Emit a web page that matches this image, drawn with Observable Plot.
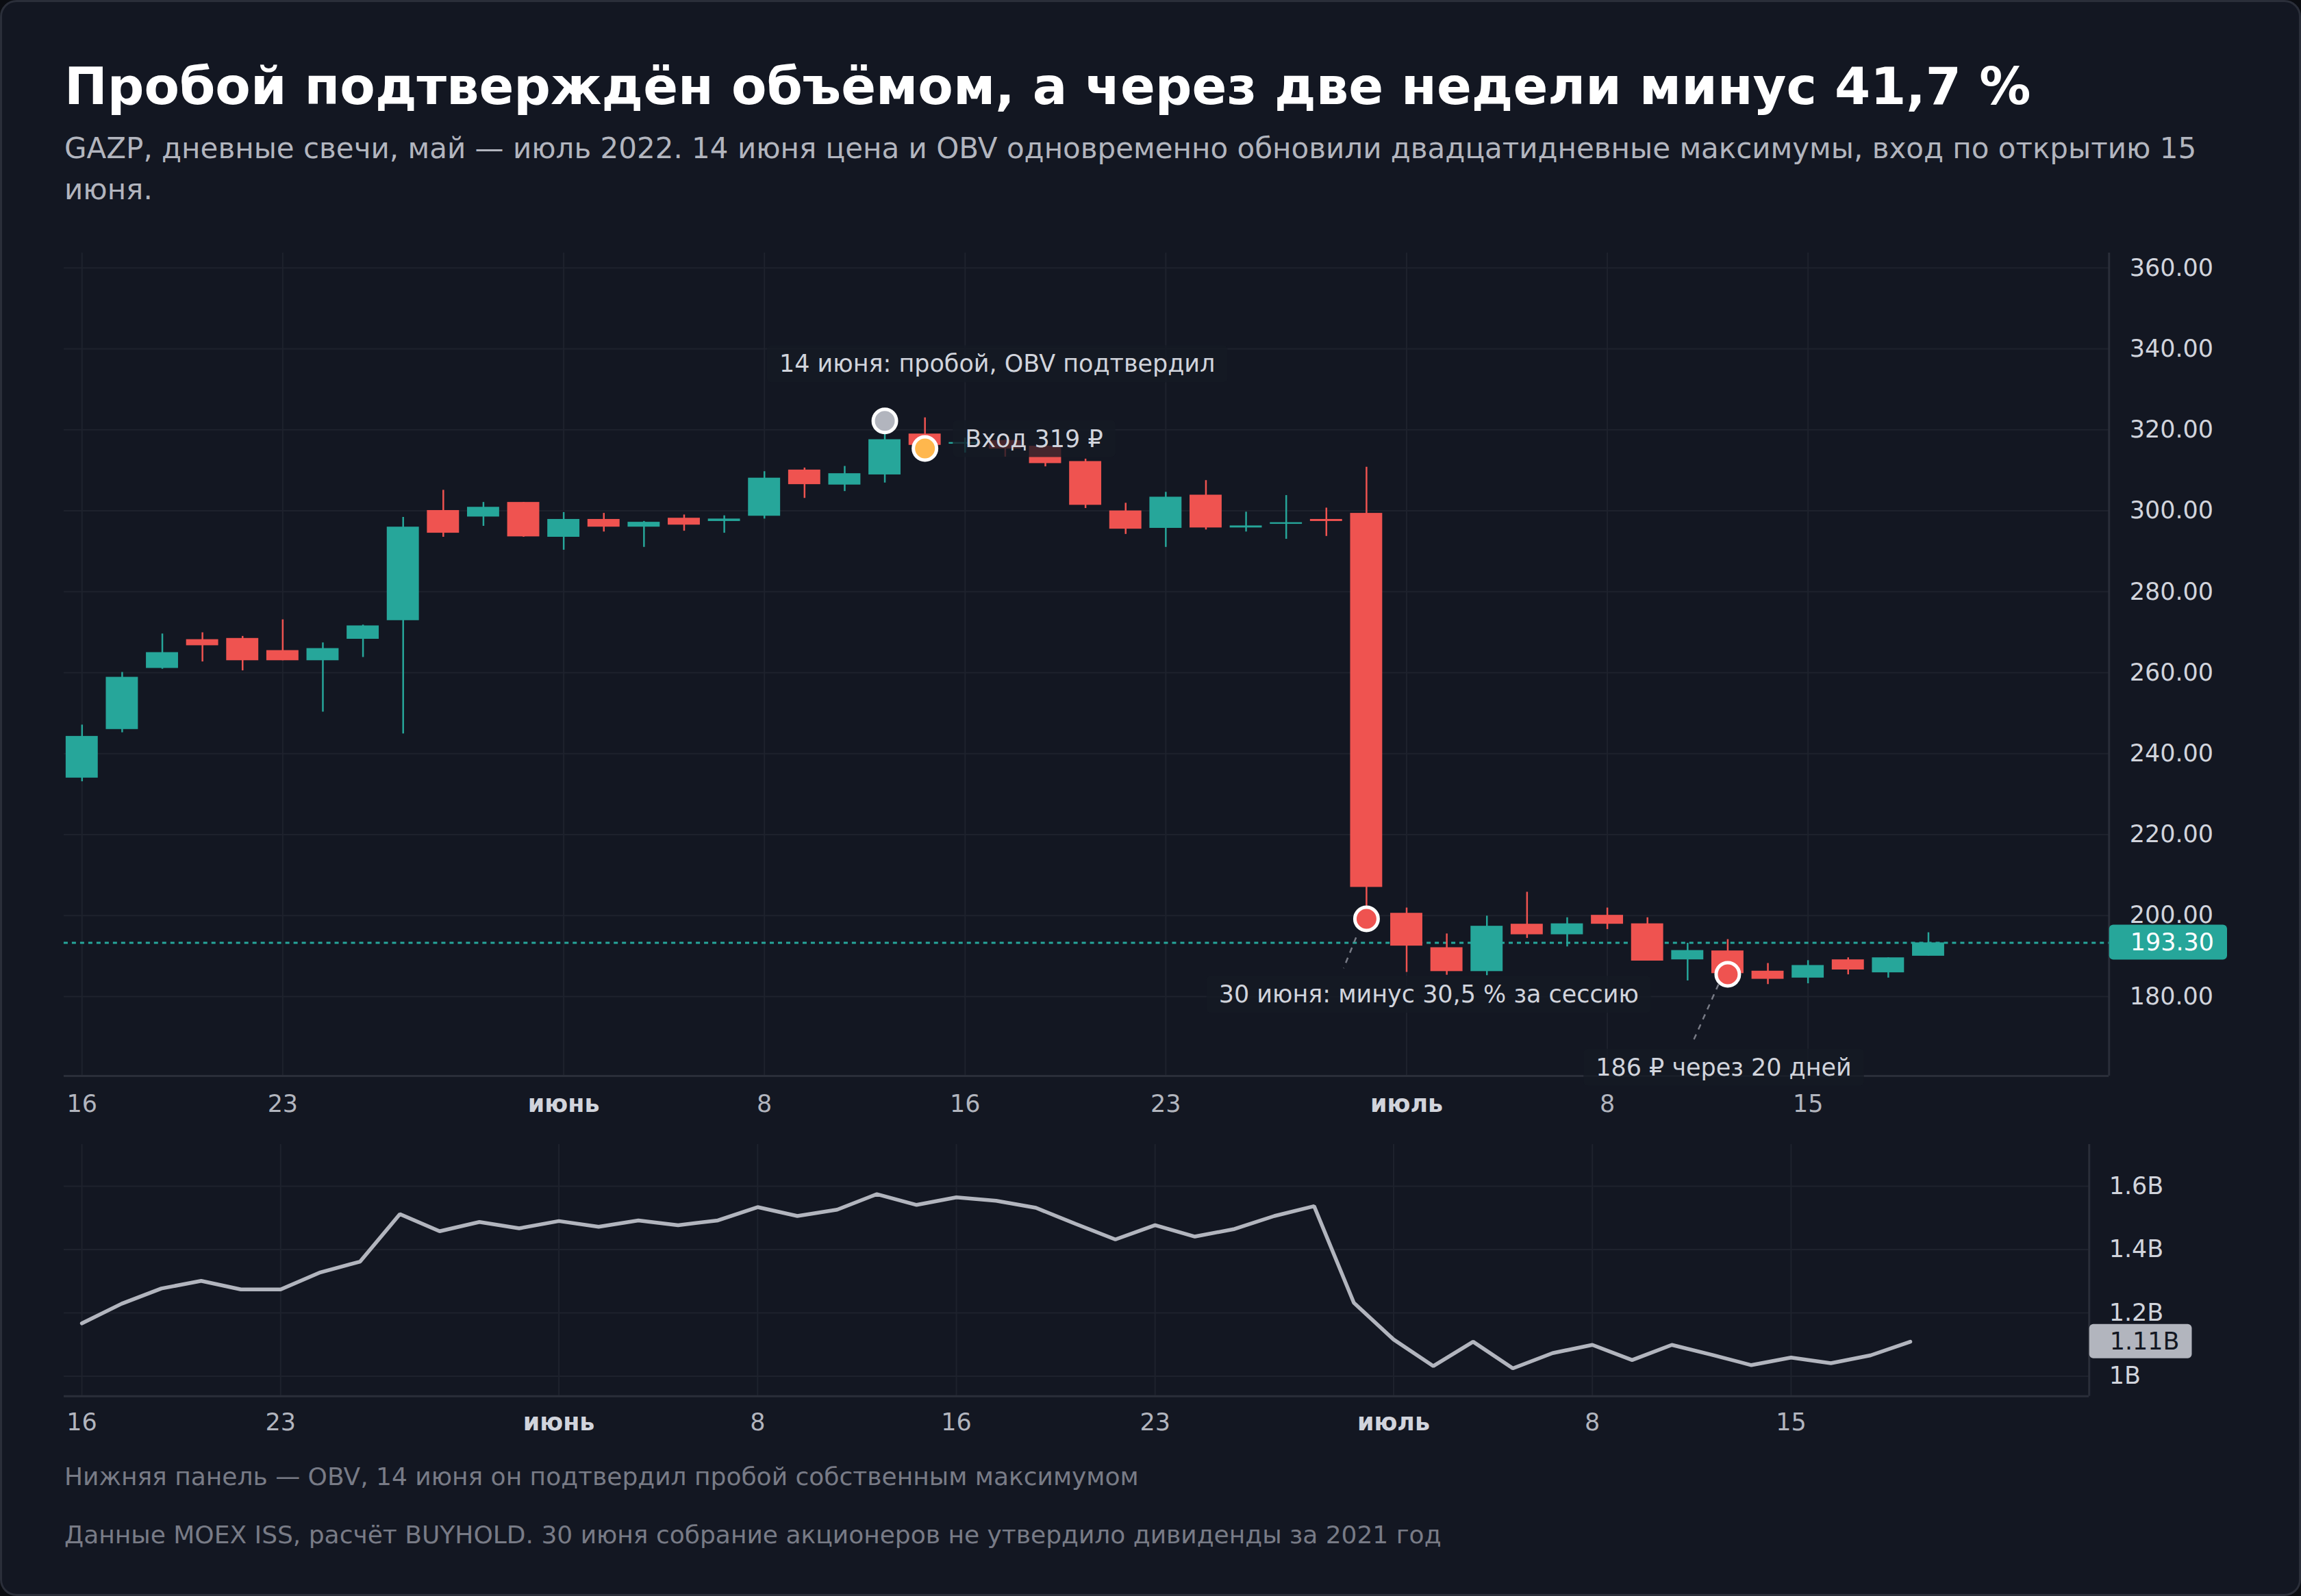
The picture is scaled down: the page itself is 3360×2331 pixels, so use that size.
<!DOCTYPE html>
<html><head><meta charset="utf-8">
<script src="https://cdn.jsdelivr.net/npm/d3@7"></script>
<script src="https://cdn.jsdelivr.net/npm/@observablehq/plot@0.6"></script>
<style>
html,body{margin:0;padding:0;background:#0b0d12;}
#card{position:relative;width:3360px;height:2331px;box-sizing:border-box;background:#131722;border:3px solid #2a2e39;border-radius:24px;overflow:hidden;font-family:"DejaVu Sans",sans-serif;}
#title{position:absolute;left:91px;top:80px;font-size:75px;line-height:86px;font-weight:bold;color:#ffffff;white-space:nowrap;}
#subtitle{position:absolute;left:91px;top:184px;width:3160px;font-size:42px;line-height:60px;color:#b2b5be;}
#main{position:absolute;left:-3px;top:327px;}
#obv{position:absolute;left:-3px;top:1650px;}
.foot{position:absolute;left:91px;font-size:36px;line-height:42px;color:#787b86;white-space:nowrap;}
#foot1{top:2133px;}
#foot2{top:2218px;}
</style></head>
<body>
<div id="card">
  <div id="title">Пробой подтверждён объёмом, а через две недели минус 41,7 %</div>
  <div id="subtitle">GAZP, дневные свечи, май — июль 2022. 14 июня цена и OBV одновременно обновили двадцатидневные максимумы, вход по открытию 15 июня.</div>
  <div id="main"></div>
  <div id="obv"></div>
  <div class="foot" id="foot1">Нижняя панель — OBV, 14 июня он подтвердил пробой собственным максимумом</div>
  <div class="foot" id="foot2">Данные MOEX ISS, расчёт BUYHOLD. 30 июня собрание акционеров не утвердило дивиденды за 2021 год</div>
</div>
<script>
// ---- data ----
const dates = ["2022-05-16","2022-05-17","2022-05-18","2022-05-19","2022-05-20",
  "2022-05-23","2022-05-24","2022-05-25","2022-05-26","2022-05-27",
  "2022-05-30","2022-05-31","2022-06-01","2022-06-02","2022-06-03",
  "2022-06-06","2022-06-07","2022-06-08","2022-06-09","2022-06-10",
  "2022-06-14","2022-06-15","2022-06-16","2022-06-17",
  "2022-06-20","2022-06-21","2022-06-22","2022-06-23","2022-06-24",
  "2022-06-27","2022-06-28","2022-06-29","2022-06-30","2022-07-01",
  "2022-07-04","2022-07-05","2022-07-06","2022-07-07","2022-07-08",
  "2022-07-11","2022-07-12","2022-07-13","2022-07-14","2022-07-15",
  "2022-07-18","2022-07-19","2022-07-20"];
const opens  = [234.0,246.0,261.1,268.2,268.5,265.5,263.0,268.3,272.9,300.1,298.5,302.1,293.5,297.9,296.0,298.2,297.4,298.7,310.1,306.4,308.9,319.0,316.5,317.4,316.0,312.2,300.0,295.7,303.9,295.8,296.7,297.9,299.4,200.6,192.1,186.2,197.9,195.3,200.1,198.0,189.1,191.3,186.3,184.6,189.1,185.9,190.0];
const highs  = [247.1,260.1,269.6,269.9,269.0,273.1,267.4,271.8,298.4,305.1,302.1,302.1,299.6,299.4,297.4,299.0,298.8,309.7,310.6,311.0,322.2,323.0,318.0,317.6,316.2,312.8,301.9,304.6,307.5,299.7,303.8,300.7,310.8,201.9,195.5,199.9,205.8,199.5,201.9,199.5,193.2,194.1,188.2,188.9,189.6,189.6,195.8];
const lows   = [233.1,245.2,260.9,262.7,260.5,263.0,250.3,263.8,244.9,293.5,296.2,293.5,290.3,294.8,291.0,295.0,294.5,298.0,303.1,304.8,306.9,314.8,314.3,313.3,310.9,300.6,294.2,291.0,295.3,294.8,293.0,293.7,199.2,186.0,185.3,185.2,194.4,192.3,196.6,188.8,183.9,184.8,183.0,183.2,185.4,184.6,190.0];
const closes = [244.3,258.9,265.0,266.7,263.0,263.0,266.0,271.6,296.0,294.5,300.9,293.6,297.9,296.0,297.2,296.5,298.0,308.1,306.5,309.2,317.6,316.2,316.9,315.3,311.7,301.4,295.5,303.4,295.8,296.3,297.1,297.4,207.0,192.5,186.2,197.4,195.3,198.0,197.9,188.8,191.4,185.7,184.3,187.7,186.6,189.6,193.3];
// OBV, billions
const obv = [1.167,1.229,1.277,1.301,1.274,1.274,1.328,1.362,1.512,1.458,1.487,1.467,1.490,1.472,1.492,1.477,1.492,1.534,1.506,1.526,1.575,1.541,1.565,1.554,1.532,1.481,1.432,1.477,1.441,1.465,1.506,1.537,1.232,1.116,1.032,1.109,1.025,1.073,1.099,1.051,1.099,1.068,1.035,1.059,1.041,1.066,1.109];

// x tick labels (trading-day index -> label)
const dayTickIdx = [0,5,17,22,27,38,43];
const dayTickLabels = ["16","23","8","16","23","8","15"];
const monthTickIdx = [12,33];
const monthTickLabels = ["июнь","июль"];
const priceTicks = [180,200,220,240,260,280,300,320,340,360];
const obvTicks = [1.0,1.2,1.4,1.6];

// annotations (trading-day index, price)
const markerIdx = [20,21,32,41];
const markerVal = [322.2,315.4,199.2,185.5];
const markerFill = ["#b2b5be","#ffb74d","#ef5350","#ef5350"];
const noteText = ["14 июня: пробой, OBV подтвердил","30 июня: минус 30,5 % за сессию","186 ₽ через 20 дней"];
const noteIdx = [22.8,33.55,40.9];
const noteVal = [336.2,180.4,162.4];
const entryText = ["Вход 319 ₽"];
const entryIdx = [22.0];
const entryVal = [317.7];
const leaderFrom = [[31.74,194.6],[40.77,183.0]];
const leaderTo = [[31.43,187.0],[40.12,168.6]];

// ---- styles ----
const teal = "#26a69a", red = "#ef5350";
const gridColor = "#1e222d", axisColor = "#2a2e39";
const xDomain = [-0.45, 50.5];
const yDomain = [160.4, 363.7];
const obvDomain = [0.937, 1.732];

const candles = dates.map((d,i)=>({i, date:d, open:opens[i], high:highs[i], low:lows[i], close:closes[i]}));
const markers = markerIdx.map((i,k)=>({i, v:markerVal[k], fill:markerFill[k]}));
const notes = noteText.map((t,k)=>({i:noteIdx[k], v:noteVal[k], text:t}));
const entries = entryText.map((t,k)=>({i:entryIdx[k], v:entryVal[k], text:t}));
const leaders = leaderFrom.map((f,k)=>({x1:f[0], y1:f[1], x2:leaderTo[k][0], y2:leaderTo[k][1]}));
const obvData = obv.map((v,i)=>({i, v}));
const lastClose = closes[closes.length-1];
const lastObv = obv[obv.length-1];
const dayLab = new Map(dayTickIdx.map((d,k)=>[d, dayTickLabels[k]]));
const monLab = new Map(monthTickIdx.map((d,k)=>[d, monthTickLabels[k]]));
const up = d => d.close >= d.open;
const fmtB = d => String(+d.toFixed(2)) + "B";
const fmtP = d3.format(".2f");

const baseStyle = {background:"transparent", color:"#d1d4dc", fontFamily:"DejaVu Sans", fontSize:"35px", overflow:"visible"};

const main = Plot.plot({
  width: 3360, height: 1323, marginTop: 39, marginBottom: 81, marginLeft: 93, marginRight: 278,
  style: baseStyle,
  color: {type: "identity"},
  x: {domain: xDomain, axis: null},
  y: {domain: yDomain, axis: null},
  marks: [
    Plot.gridY(priceTicks, {stroke: gridColor, strokeOpacity: 1, strokeWidth: 2}),
    Plot.gridX([...dayTickIdx, ...monthTickIdx], {stroke: gridColor, strokeOpacity: 1, strokeWidth: 2}),
    Plot.ruleX([xDomain[1]], {stroke: axisColor, strokeWidth: 3}),
    Plot.ruleY([yDomain[0]], {stroke: axisColor, strokeWidth: 3}),
    Plot.axisX(dayTickIdx, {anchor:"bottom", label: null, tickSize: 0, tickPadding: 28, tickFormat: d => dayLab.get(d), color: "#b2b5be"}),
    Plot.axisX(monthTickIdx, {anchor:"bottom", label: null, tickSize: 0, tickPadding: 28, tickFormat: d => monLab.get(d), color: "#d1d4dc", fontWeight: "bold"}),
    Plot.axisY(priceTicks, {anchor:"right", label: null, tickSize: 0, tickPadding: 30, tickFormat: fmtP, color: "#d1d4dc"}),
    Plot.ruleY([lastClose], {stroke: teal, strokeWidth: 3, strokeDasharray: "6,6"}),
    Plot.ruleX(candles, {x: "i", y1: "low", y2: "high", stroke: d => up(d) ? teal : red, strokeWidth: 2.5}),
    Plot.rect(candles, {x1: d => d.i - 0.4, x2: d => d.i + 0.4, y1: "open", y2: "close", fill: d => up(d) ? teal : red}),
    Plot.link(leaders, {x1:"x1", y1:"y1", x2:"x2", y2:"y2", stroke: "#787b86", strokeWidth: 2.5, strokeDasharray: "8,8"}),
    Plot.dot(markers, {x: "i", y: "v", r: 17, fill: "fill", stroke: "white", strokeWidth: 5}),
    Plot.text(notes, {x: "i", y: "v", text: "text", textAnchor: "middle", fill: "#d1d4dc", fontSize: 35}),
    Plot.text(entries, {x: "i", y: "v", text: "text", textAnchor: "start", fill: "#d1d4dc", fontSize: 35}),
    Plot.text([lastClose], {x: () => xDomain[1], y: d => d, text: fmtP, textAnchor: "start", dx: 31, fill: "#ffffff", fontSize: 35})
  ]
});
document.getElementById("main").appendChild(main);

const obvChart = Plot.plot({
  width: 3360, height: 456, marginTop: 18, marginBottom: 70, marginLeft: 93, marginRight: 307,
  style: baseStyle,
  x: {domain: xDomain, axis: null},
  y: {domain: obvDomain, axis: null},
  marks: [
    Plot.gridY(obvTicks, {stroke: gridColor, strokeOpacity: 1, strokeWidth: 2}),
    Plot.gridX([...dayTickIdx, ...monthTickIdx], {stroke: gridColor, strokeOpacity: 1, strokeWidth: 2}),
    Plot.ruleX([xDomain[1]], {stroke: axisColor, strokeWidth: 3}),
    Plot.ruleY([obvDomain[0]], {stroke: axisColor, strokeWidth: 3}),
    Plot.axisX(dayTickIdx, {anchor:"bottom", label: null, tickSize: 0, tickPadding: 25, tickFormat: d => dayLab.get(d), color: "#b2b5be"}),
    Plot.axisX(monthTickIdx, {anchor:"bottom", label: null, tickSize: 0, tickPadding: 25, tickFormat: d => monLab.get(d), color: "#d1d4dc", fontWeight: "bold"}),
    Plot.axisY(obvTicks, {anchor:"right", label: null, tickSize: 0, tickPadding: 29, tickFormat: fmtB, color: "#d1d4dc"}),
    Plot.line(obvData, {x: "i", y: "v", stroke: "#b2b5be", strokeWidth: 5.5, strokeLinejoin: "miter"}),
    Plot.text([lastObv], {x: () => xDomain[1], y: d => d, text: fmtB, textAnchor: "start", dx: 30, fill: "#131722", fontSize: 35})
  ]
});
document.getElementById("obv").appendChild(obvChart);

// background boxes behind label texts (sized from the rendered text)
function addBoxes(svg, strings, fill, padL, padR, h, rx) {
  const wanted = new Set(strings);
  svg.querySelectorAll("text").forEach(t => {
    if (!wanted.has(t.textContent)) return;
    if (t.closest('g[aria-label^="y-axis"]') || t.closest('g[aria-label^="x-axis"]')) return;
    const bb = t.getBBox();
    const r = document.createElementNS("http://www.w3.org/2000/svg", "rect");
    r.setAttribute("x", bb.x - padL);
    r.setAttribute("width", bb.width + padL + padR);
    r.setAttribute("y", bb.y + bb.height / 2 - h / 2);
    r.setAttribute("height", h);
    r.setAttribute("rx", rx);
    r.setAttribute("fill", fill);
    r.setAttribute("stroke", "none");
    const tr = t.getAttribute("transform");
    if (tr) r.setAttribute("transform", tr);
    t.parentNode.insertBefore(r, t);
  });
}
addBoxes(main, [...noteText, ...entryText], "rgba(21,25,36,0.78)", 18, 18, 54, 6);
addBoxes(main, [fmtP(lastClose)], teal, 31, 19, 51, 6);
addBoxes(obvChart, [fmtB(lastObv)], "#b2b5be", 30, 18, 50, 6);
</script>
</body></html>
